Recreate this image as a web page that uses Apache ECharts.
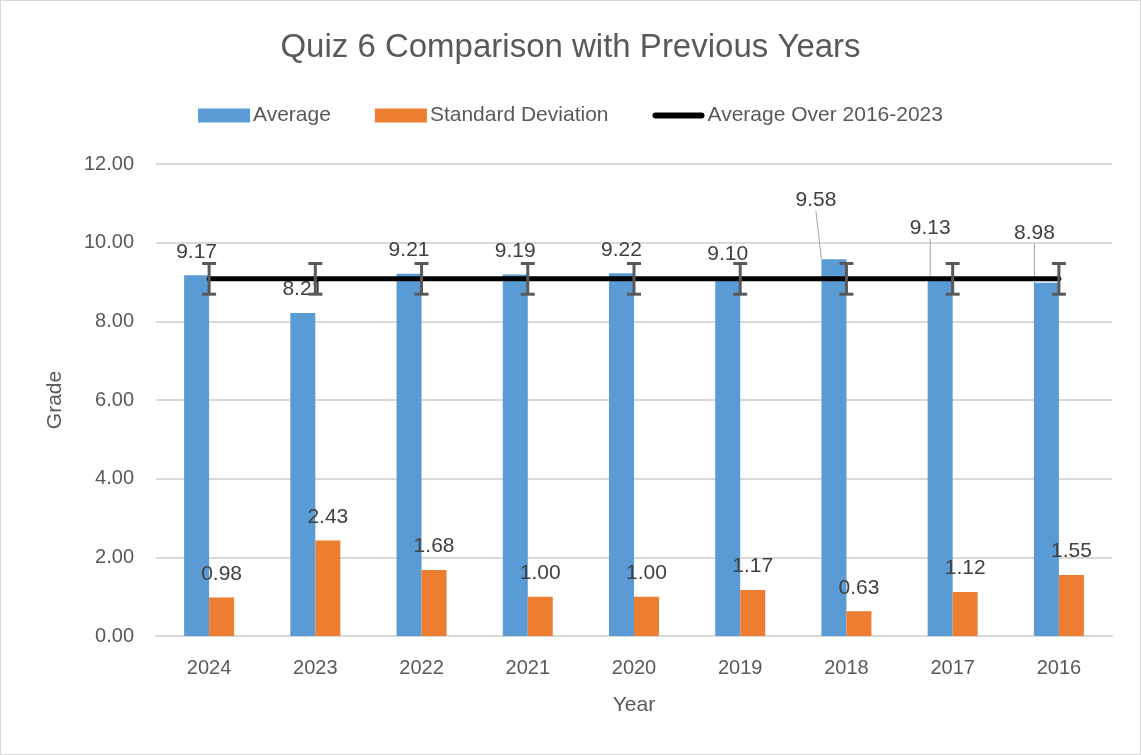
<!DOCTYPE html>
<html>
<head>
<meta charset="utf-8">
<script src="https://cdn.jsdelivr.net/npm/echarts@6/dist/echarts.min.js"></script>
<style>
html, body { margin: 0; padding: 0; background: #fff; }
#chart { width: 1139px; height: 753px; border: 1px solid #d9d9d9; }
</style>
</head>
<body>
<div id="chart"></div>
<script>
var years = ['2024', '2023', '2022', '2021', '2020', '2019', '2018', '2017', '2016'];
var averages = [9.17, 8.21, 9.21, 9.19, 9.22, 9.10, 9.58, 9.13, 8.98];
var stdDevs = [0.98, 2.43, 1.68, 1.00, 1.00, 1.17, 0.63, 1.12, 1.55];
var overallAvg = [9.08, 9.08, 9.08, 9.08, 9.08, 9.08, 9.08, 9.08, 9.08];
var errorSize = [0.39, 0.39, 0.39, 0.39, 0.39, 0.39, 0.39, 0.39, 0.39];
var yTicks = ['0.00', '2.00', '4.00', '6.00', '8.00', '10.00', '12.00'];

var font = '"Liberation Sans", Arial, sans-serif';
var textColor = '#595959';

// labels Excel moved away from their bars (shift in px, drawn with a leader line)
var movedLabels = { 6: [-18, -35], 7: [-10, -25], 8: [-12, -26] };

var chart = echarts.init(document.getElementById('chart'));

var avgData = averages.map(function (v, i) {
    var item = { value: v };
    if (movedLabels[i]) {
        item.labelLine = { show: true, lineStyle: { color: '#a6a6a6', width: 1 } };
    }
    return item;
});

var errData = overallAvg.map(function (v, i) {
    return [i, v - errorSize[i], v + errorSize[i]];
});

chart.setOption({
    animation: false,
    textStyle: { fontFamily: font },
    title: {
        text: 'Quiz 6 Comparison with Previous Years',
        left: 'center',
        top: 25,
        textStyle: { fontFamily: font, fontSize: 33, fontWeight: 'normal', color: textColor }
    },
    legend: {
        top: 99,
        left: 'center',
        itemGap: 44,
        itemWidth: 52,
        itemHeight: 14,
        textStyle: { fontFamily: font, fontSize: 21, color: textColor, padding: [0, 0, 0, -2] },
        data: [
            { name: 'Average', icon: 'rect' },
            { name: 'Standard Deviation', icon: 'rect' },
            { name: 'Average Over 2016-2023', icon: 'path://M3,0 L49,0 A3,3 0 0 1 49,6 L3,6 A3,3 0 0 1 3,0 Z', itemStyle: { color: '#000' } }
        ]
    },
    grid: { left: 155, right: 28, top: 163, bottom: 118 },
    xAxis: {
        type: 'category',
        data: years,
        name: 'Year',
        nameLocation: 'middle',
        nameGap: 59,
        nameTextStyle: { fontFamily: font, fontSize: 21, color: textColor },
        axisLine: { lineStyle: { color: '#d9d9d9', width: 2 } },
        axisTick: { show: false },
        axisLabel: { fontFamily: font, fontSize: 20, color: textColor, margin: 22 }
    },
    yAxis: {
        type: 'value',
        min: 0,
        max: 12,
        interval: 2,
        name: 'Grade',
        nameLocation: 'middle',
        nameGap: 90,
        nameTextStyle: { fontFamily: font, fontSize: 21, color: textColor },
        axisLine: { show: false },
        axisTick: { show: false },
        axisLabel: {
            fontFamily: font, fontSize: 20, color: textColor, margin: 22,
            formatter: function (v) { return yTicks[Math.round(v / 2)]; }
        },
        splitLine: { lineStyle: { color: '#d9d9d9', width: 2 } }
    },
    series: [
        {
            name: 'Average',
            type: 'bar',
            data: avgData,
            barWidth: 25,
            barGap: '0%',
            itemStyle: { color: '#5b9bd5' },
            label: {
                show: true, position: 'top', distance: 13,
                fontFamily: font, fontSize: 21, color: '#404040',
                formatter: function (p) { return p.value.toFixed(2); }
            },
            labelLayout: function (p) {
                var m = movedLabels[p.dataIndex];
                return m ? { dx: m[0], dy: m[1] } : {};
            },
            labelLine: { show: false },
            z: 2
        },
        {
            name: 'Standard Deviation',
            type: 'bar',
            data: stdDevs,
            barWidth: 25,
            barGap: '0%',
            itemStyle: { color: '#ed7d31' },
            label: {
                show: true, position: 'top', distance: 13,
                fontFamily: font, fontSize: 21, color: '#404040',
                formatter: function (p) { return p.value.toFixed(2); }
            },
            z: 2
        },
        {
            name: 'Average Over 2016-2023',
            type: 'line',
            data: overallAvg,
            symbol: 'none',
            lineStyle: { color: '#000', width: 5, cap: 'round' },
            itemStyle: { color: '#000' },
            z: 3
        },
        {
            name: 'error',
            type: 'custom',
            data: errData,
            z: 4,
            silent: true,
            renderItem: function (params, api) {
                var lo = api.coord([api.value(0), api.value(1)]);
                var hi = api.coord([api.value(0), api.value(2)]);
                var half = 7;
                var style = { stroke: '#595959', lineWidth: 3 };
                return {
                    type: 'group',
                    children: [
                        { type: 'line', shape: { x1: lo[0], y1: lo[1], x2: hi[0], y2: hi[1] }, style: style },
                        { type: 'line', shape: { x1: lo[0] - half, y1: lo[1], x2: lo[0] + half, y2: lo[1] }, style: style },
                        { type: 'line', shape: { x1: hi[0] - half, y1: hi[1], x2: hi[0] + half, y2: hi[1] }, style: style }
                    ]
                };
            }
        }
    ]
});
</script>
</body>
</html>
